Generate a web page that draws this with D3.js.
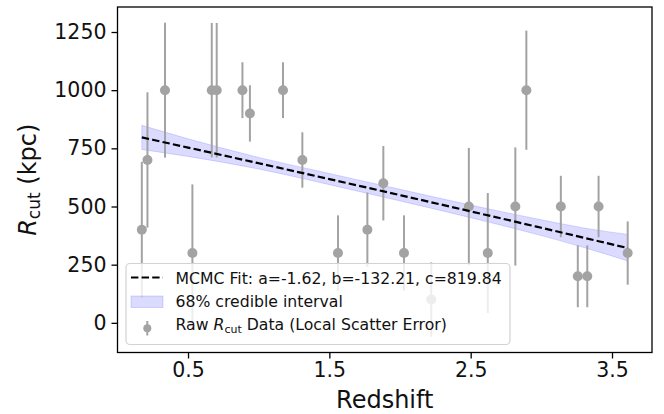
<!DOCTYPE html>
<html><head><meta charset="utf-8">
<script src="https://cdn.jsdelivr.net/npm/d3@7"></script>
<style>
html,body{margin:0;padding:0;background:#fff;}
svg{display:block;font-family:"DejaVu Sans",sans-serif;}
</style></head>
<body><svg id="chart" width="664" height="414"></svg>
<script>
// ---- data ----
const redshift = [0.173, 0.213, 0.337, 0.531, 0.668, 0.703, 0.885, 0.938, 1.172, 1.309, 1.561, 1.769, 1.882, 2.028, 2.221, 2.487, 2.621, 2.816, 2.894, 3.138, 3.258, 3.325, 3.405, 3.611];
const rcut     = [400, 700, 1000, 300, 1000, 1000, 1000, 900, 1000, 700, 300, 400, 600, 300, 100, 500, 300, 500, 1000, 500, 200, 200, 500, 300];
const rcutErr  = [292, 291, 290, 295, 289, 289, 120, 121, 120, 119, 162, 160, 160, 162, 160, 252, 258, 254, 256, 132, 133, 133, 132, 136];

const fitZ    = [0.173, 0.5, 1.0, 1.5, 2.0, 2.5, 3.0, 3.3, 3.611];
const fitMid  = [797.0, 753.3, 686.0, 617.9, 548.9, 479.2, 408.6, 365.9, 321.5];
const bandLow = [745, 715, 661, 594, 524, 452, 375, 324, 266];
const bandHigh= [849, 791, 711, 642, 574, 506, 443, 408, 380];

const xTicks = [0.5, 1.5, 2.5, 3.5];
const yTicks = [0, 250, 500, 750, 1000, 1250];
const fitLabel = "MCMC Fit: a=-1.62, b=-132.21, c=819.84";
const bandLabel = "68% credible interval";

// ---- layout ----
const L = 117.5, R = 652, T = 7, B = 352.5;
const svg = d3.select("#chart");
const x = d3.scaleLinear().domain([0.001, 3.783]).range([L, R]);
const y = d3.scaleLinear().domain([-127.5, 1357.5]).range([B, T]);

const gray = "#a3a3a3";

// band
const bandData = fitZ.map((z, i) => ({z, lo: bandLow[i], hi: bandHigh[i]}));
svg.append("path").datum(bandData)
  .attr("d", d3.area().x(d => x(d.z)).y0(d => y(d.lo)).y1(d => y(d.hi)).curve(d3.curveMonotoneX))
  .attr("fill", "rgba(0,0,255,0.14)").attr("stroke", "rgba(0,0,255,0.14)").attr("stroke-width", 1);

// error bars + points
const pts = redshift.map((z, i) => ({z, r: rcut[i], e: rcutErr[i]}));
const g = svg.append("g");
g.selectAll("line.eb").data(pts).join("line").attr("class", "eb")
  .attr("x1", d => x(d.z)).attr("x2", d => x(d.z))
  .attr("y1", d => y(d.r - d.e)).attr("y2", d => y(d.r + d.e))
  .attr("stroke", gray).attr("stroke-width", 2);
g.selectAll("circle").data(pts).join("circle")
  .attr("cx", d => x(d.z)).attr("cy", d => y(d.r)).attr("r", 5)
  .attr("fill", gray);

// fit line
const fitData = fitZ.map((z, i) => ({z, v: fitMid[i]}));
svg.append("path").datum(fitData)
  .attr("d", d3.line().x(d => x(d.z)).y(d => y(d.v)).curve(d3.curveMonotoneX))
  .attr("fill", "none").attr("stroke", "#000").attr("stroke-width", 2.2)
  .attr("stroke-dasharray", "7.4,3.2");

// axes
const xAxis = svg.append("g").attr("transform", `translate(0,${B})`)
  .call(d3.axisBottom(x).tickValues(xTicks).tickFormat(d3.format(".1f")).tickSize(6).tickPadding(4));
const yAxis = svg.append("g").attr("transform", `translate(${L},0)`)
  .call(d3.axisLeft(y).tickValues(yTicks).tickFormat(d3.format("d")).tickSize(6).tickPadding(5));
[xAxis, yAxis].forEach(a => {
  a.select(".domain").remove();
  a.selectAll("line").attr("stroke", "#000").attr("stroke-width", 1.3);
  a.selectAll("text").attr("font-size", 20.5).attr("fill", "#111").attr("font-family", "DejaVu Sans");
});

// frame
svg.append("rect").attr("x", L).attr("y", T).attr("width", R - L).attr("height", B - T)
  .attr("fill", "none").attr("stroke", "#000").attr("stroke-width", 1.3);

// axis labels
svg.append("text").attr("x", (L + R) / 2).attr("y", 408).attr("text-anchor", "middle")
  .attr("font-size", 24).attr("fill", "#111").text("Redshift");
const yl = svg.append("text").attr("transform", `translate(36,${(T + B) / 2}) rotate(-90)`)
  .attr("text-anchor", "middle").attr("font-size", 24).attr("fill", "#111");
yl.append("tspan").attr("font-style", "italic").text("R");
yl.append("tspan").attr("font-size", 17).attr("dy", 4).text("cut");
yl.append("tspan").attr("dy", -4).text(" (kpc)");

// legend
const lg = svg.append("g");
lg.append("rect").attr("x", 126).attr("y", 263.5).attr("width", 384).attr("height", 81)
  .attr("rx", 4).attr("fill", "rgba(255,255,255,0.8)").attr("stroke", "#d3d3d3").attr("stroke-width", 1.2);
lg.append("line").attr("x1", 131).attr("x2", 163).attr("y1", 277.5).attr("y2", 277.5)
  .attr("stroke", "#000").attr("stroke-width", 2.2).attr("stroke-dasharray", "7.4,3.2");
lg.append("text").attr("x", 175.5).attr("y", 283.5).attr("font-size", 15.7).attr("fill", "#111").text(fitLabel);
lg.append("rect").attr("x", 131).attr("y", 296).attr("width", 32).attr("height", 11.5)
  .attr("fill", "rgba(0,0,255,0.14)").attr("stroke", "rgba(0,0,255,0.14)");
lg.append("text").attr("x", 175.5).attr("y", 306.7).attr("font-size", 15.7).attr("fill", "#111").text(bandLabel);
lg.append("line").attr("x1", 147.3).attr("x2", 147.3).attr("y1", 321).attr("y2", 335.5)
  .attr("stroke", gray).attr("stroke-width", 2);
lg.append("circle").attr("cx", 147.3).attr("cy", 328.3).attr("r", 4).attr("fill", gray);
const t3 = lg.append("text").attr("x", 175.5).attr("y", 330).attr("font-size", 15.7).attr("fill", "#111");
t3.append("tspan").text("Raw ");
t3.append("tspan").attr("font-style", "italic").text("R");
t3.append("tspan").attr("font-size", 11).attr("dy", 3).text("cut");
t3.append("tspan").attr("dy", -3).text(" Data (Local Scatter Error)");
</script></body></html>
